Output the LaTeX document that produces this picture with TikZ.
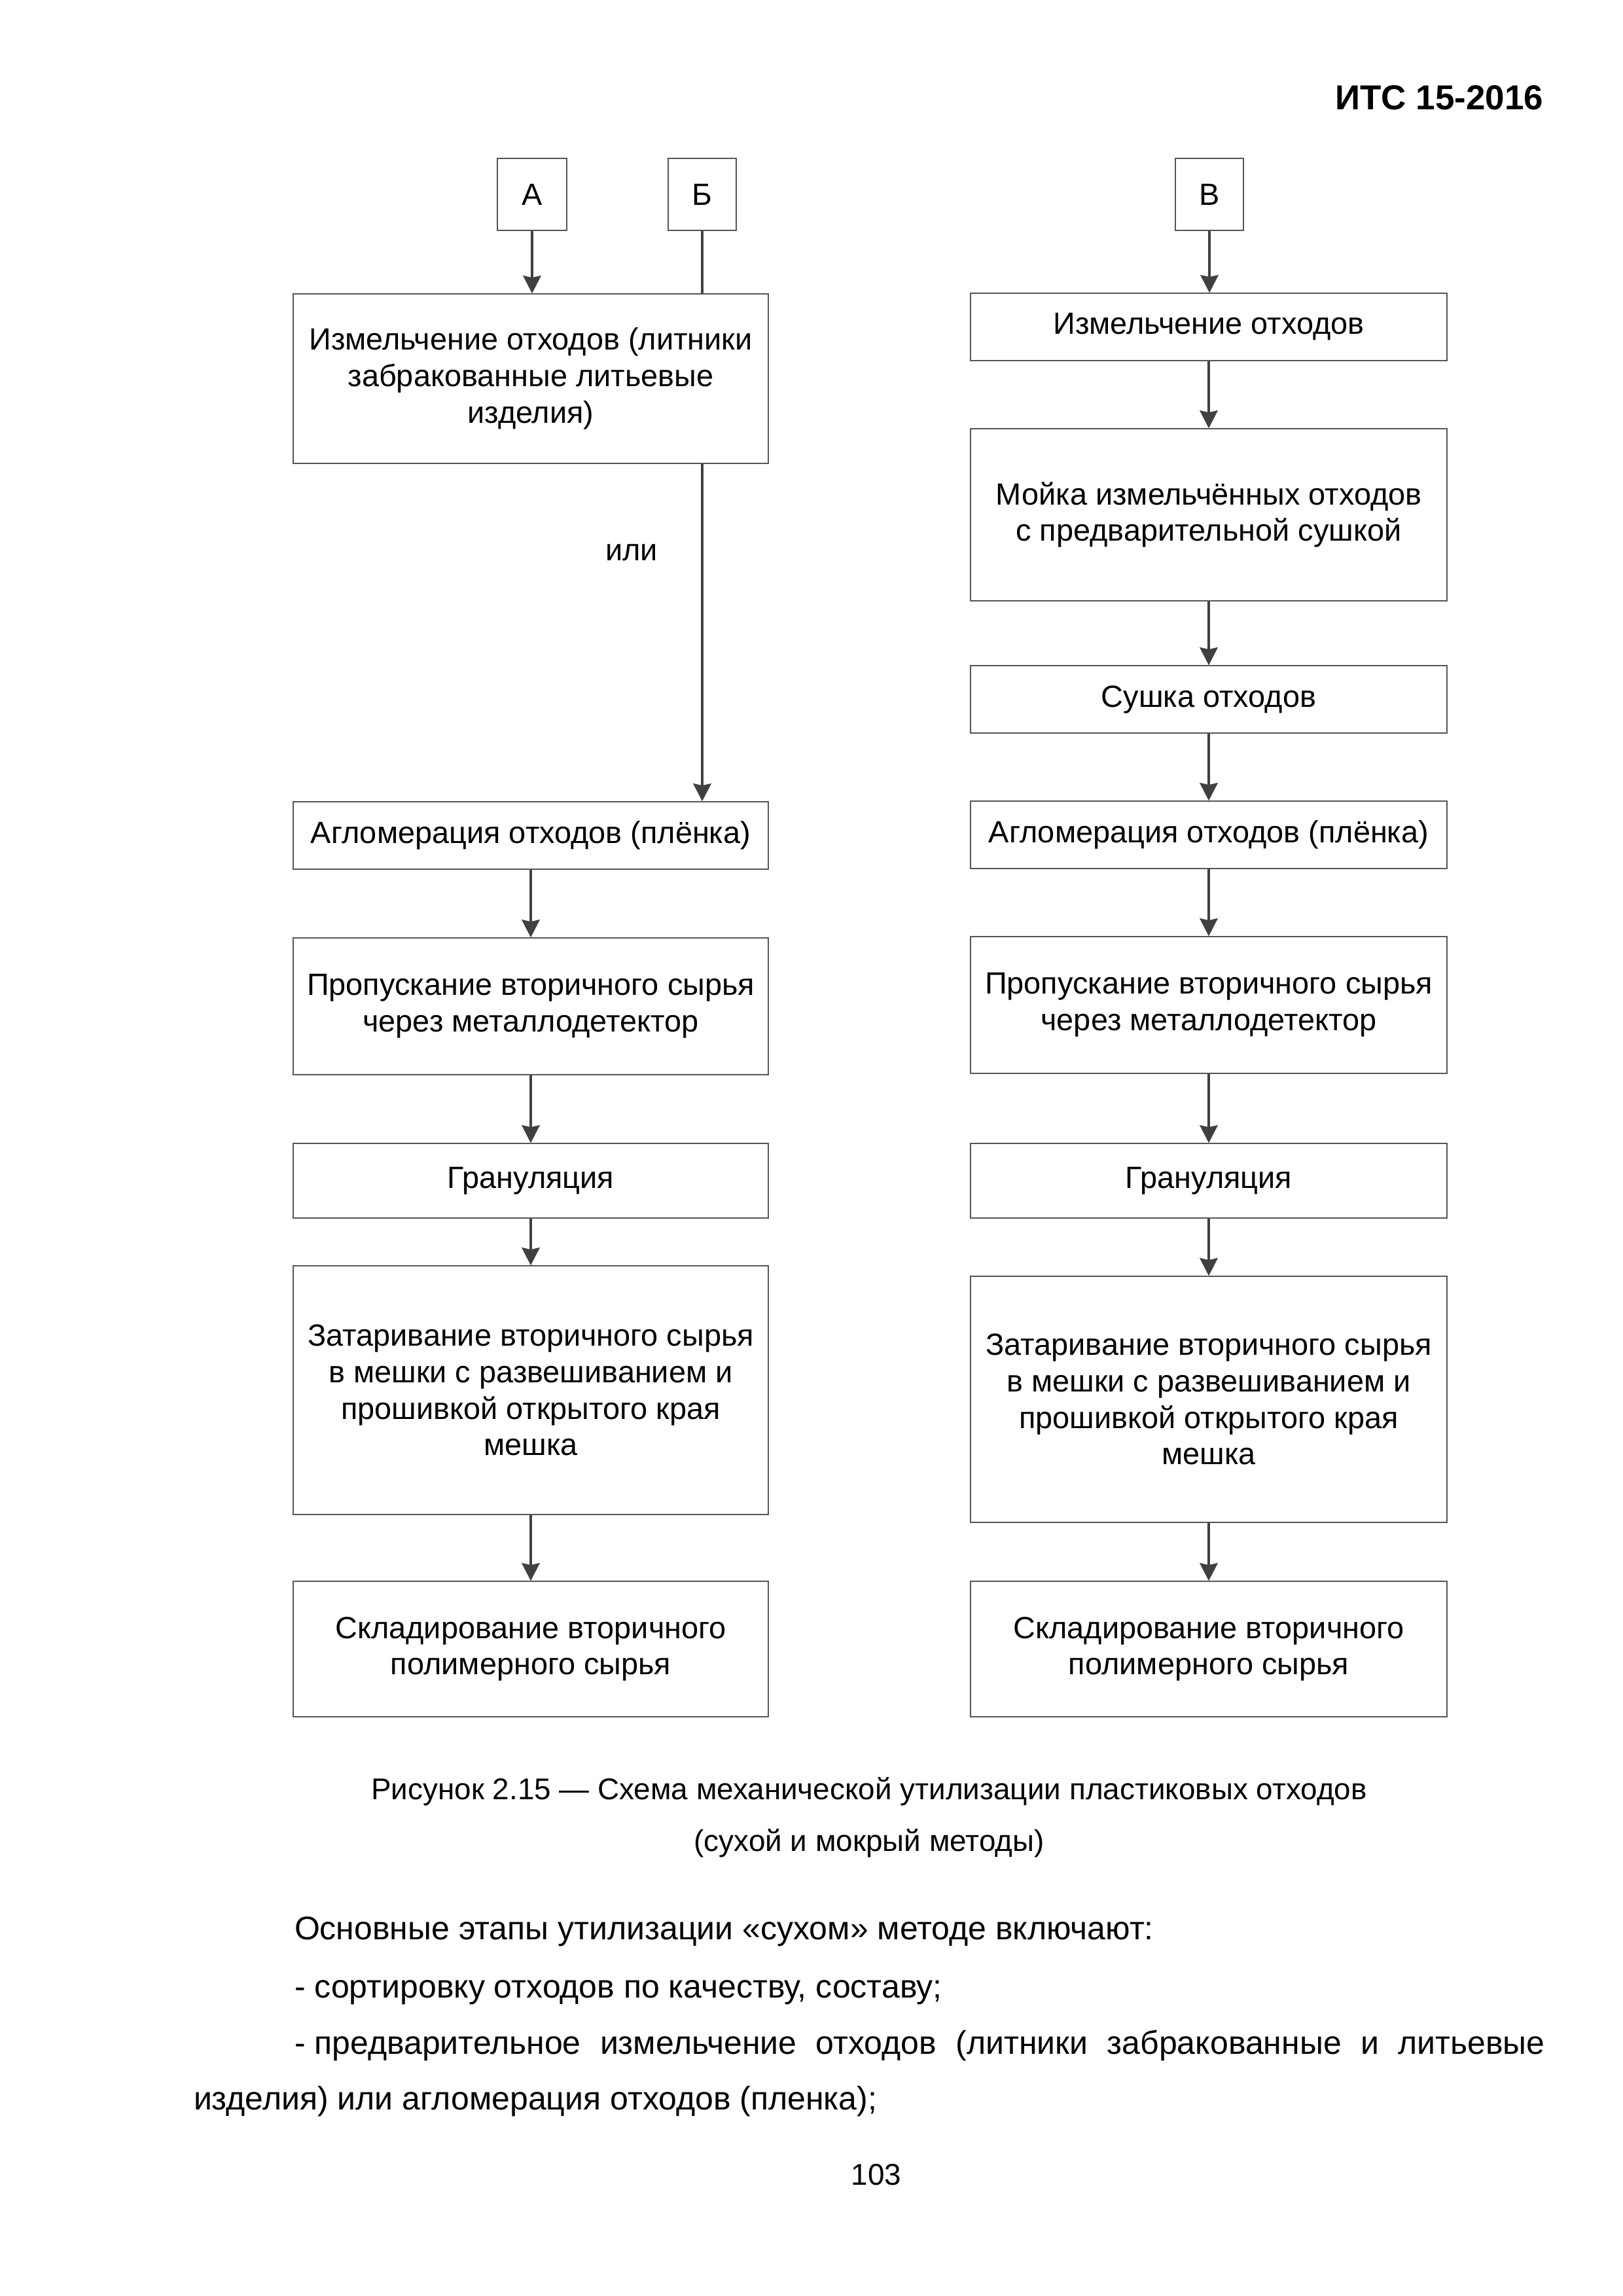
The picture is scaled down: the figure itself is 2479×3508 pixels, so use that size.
\documentclass[tikz,border=0pt]{standalone}
\usepackage{fontspec}
\setmainfont{Liberation Sans}
\usetikzlibrary{arrows.meta,backgrounds}
\definecolor{boxline}{HTML}{555555}
\definecolor{arrline}{HTML}{404040}
\newcommand{\mybox}[6]{\node[stepbox, minimum width={(#4-#2)*0.24pt}, minimum height={(#5-#3)*0.24pt}] (#1) at ({(#2+#4)/2},{(#3+#5)/2}) {#6};}
\begin{document}
\begin{tikzpicture}[x=0.24pt,y=-0.24pt,
  stepbox/.style={draw=boxline, line width=0.35pt, fill=white, inner sep=0pt, align=center, font=\fontsize{11.25}{13.4}\selectfont},
  conn/.style={draw=arrline, line width=0.8pt, -{Stealth[length=6.5pt,width=6.6pt,inset=0.7pt]}},
  plaintext/.style={inner sep=0pt, outer sep=0pt},
  bodytext/.style={plaintext, anchor=base west, font=\fontsize{12}{21}\selectfont},
  captext/.style={plaintext, anchor=base, font=\fontsize{11}{18}\selectfont}]
\useasboundingbox (0,0) rectangle (2479,3508);

% header
\node[plaintext, anchor=base east, font=\bfseries\fontsize{12.7}{15}\selectfont] (hdr) at (2358,168) {ИТС 15-2016};

% left column
\mybox{A}{760}{242}{866}{352}{А}
\mybox{B}{1021}{242}{1125}{352}{Б}
\mybox{L1}{448}{449}{1174}{708}{Измельчение отходов (литники\\забракованные литьевые\\изделия)}
\mybox{L2}{448}{1225}{1174}{1328}{Агломерация отходов (плёнка)}
\mybox{L3}{448}{1433}{1174}{1642}{Пропускание вторичного сырья\\через металлодетектор}
\mybox{L4}{448}{1747}{1174}{1861}{Грануляция}
\mybox{L5}{448}{1934}{1174}{2314}{Затаривание вторичного сырья\\в мешки с развешиванием и\\прошивкой открытого края\\мешка}
\mybox{L6}{448}{2416}{1174}{2623}{Складирование вторичного\\полимерного сырья}
\node[plaintext, anchor=base, font=\fontsize{11.25}{13.4}\selectfont] (or) at (965,857) {или};

% right column
\mybox{V}{1796}{242}{1900}{352}{В}
\mybox{R1}{1483}{448}{2211}{551}{Измельчение отходов}
\mybox{R2}{1483}{655}{2211}{918}{Мойка измельчённых отходов\\с предварительной сушкой}
\mybox{R3}{1483}{1017}{2211}{1120}{Сушка отходов}
\mybox{R4}{1483}{1224}{2211}{1327}{Агломерация отходов (плёнка)}
\mybox{R5}{1483}{1431}{2211}{1640}{Пропускание вторичного сырья\\через металлодетектор}
\mybox{R6}{1483}{1747}{2211}{1861}{Грануляция}
\mybox{R7}{1483}{1950}{2211}{2326}{Затаривание вторичного сырья\\в мешки с развешиванием и\\прошивкой открытого края\\мешка}
\mybox{R8}{1483}{2416}{2211}{2623}{Складирование вторичного\\полимерного сырья}

\begin{scope}[on background layer]
\fill[white] (0,0) rectangle (2479,3508);
\draw[conn] (A.south) -- (A.south |- L1.north);
\draw[conn] (B.south) -- (B.south |- L2.north);
\draw[conn] (L2.south) -- (L3.north);
\draw[conn] (L3.south) -- (L4.north);
\draw[conn] (L4.south) -- (L5.north);
\draw[conn] (L5.south) -- (L6.north);
\draw[conn] (V.south) -- (V.south |- R1.north);
\draw[conn] (R1.south) -- (R2.north);
\draw[conn] (R2.south) -- (R3.north);
\draw[conn] (R3.south) -- (R4.north);
\draw[conn] (R4.south) -- (R5.north);
\draw[conn] (R5.south) -- (R6.north);
\draw[conn] (R6.south) -- (R7.north);
\draw[conn] (R7.south) -- (R8.north);
\end{scope}

% caption
\node[captext] (cap1) at (1328,2749) {Рисунок 2.15 — Схема механической утилизации пластиковых отходов};
\node[captext] (cap2) at (1328,2828) {(сухой и мокрый методы)};

% body text
\node[bodytext] (t1) at (450,2963) {Основные этапы утилизации «сухом» методе включают:};
\node[bodytext] (t2) at (450,3052) {- сортировку отходов по качеству, составу;};
\node[bodytext] (t3) at (450,3138) {\makebox[458.6pt][s]{-\hspace{0.278em}предварительное измельчение отходов (литники забракованные и литьевые}};
\node[bodytext] (t4) at (296,3223) {изделия) или агломерация отходов (пленка);};

% page number
\node[captext] (pg) at (1339,3338) {103};
\end{tikzpicture}
\end{document}
